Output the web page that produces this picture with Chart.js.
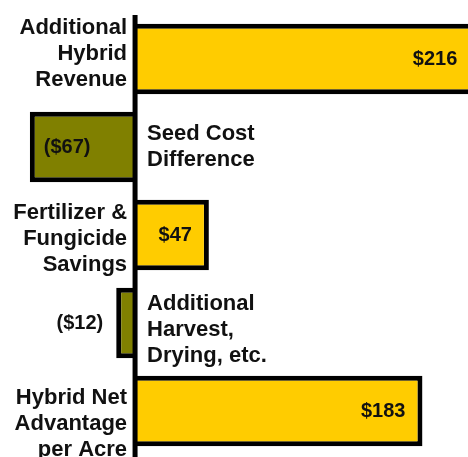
<!DOCTYPE html>
<html>
<head>
<meta charset="utf-8">
<script src="https://cdn.jsdelivr.net/npm/chart.js@4"></script>
<style>
  html, body { margin: 0; padding: 0; background: #fff; overflow: hidden; }
  #wrap { width: 468px; height: 457px; position: relative; }
</style>
</head>
<body>
<div id="wrap"><canvas id="chart"></canvas></div>
<script>
// DATA
const categories = [
  ["Additional", "Hybrid", "Revenue"],
  ["Seed Cost", "Difference"],
  ["Fertilizer &", "Fungicide", "Savings"],
  ["Additional", "Harvest,", "Drying, etc."],
  ["Hybrid Net", "Advantage", "per Acre"],
];
const values = [216, -67, 47, -12, 183];
const valueLabels = ["$216", "($67)", "$47", "($12)", "$183"];

const X_MIN = -86;
const X_MAX = 212; // first bar runs off the right edge

const POS_COLOR = "#FFCC00";
const NEG_COLOR = "#808000";
const FONT = "'Liberation Sans', Arial, sans-serif";
// small vertical nudges for the category text blocks (px)
const labelShift = [-5, 0, 4, 7, 13];

// draws the zero axis, category text and value text
const labelPlugin = {
  id: "barLabels",
  afterDatasetsDraw(chart) {
    const ctx = chart.ctx;
    const xs = chart.scales.x;
    const meta = chart.getDatasetMeta(0);
    const zero = xs.getPixelForValue(0);

    ctx.save();
    ctx.fillStyle = "#000";
    ctx.fillRect(zero - 2.5, chart.chartArea.top, 5, chart.height - chart.chartArea.top);

    ctx.fillStyle = "#111";
    ctx.textBaseline = "middle";

    meta.data.forEach((bar, i) => {
      const v = values[i];
      const lines = categories[i];
      const lh = 26;
      const cy = bar.y + labelShift[i];
      const y0 = cy - ((lines.length - 1) * lh) / 2;

      ctx.font = "bold 22px " + FONT;
      let tx;
      if (v >= 0) {
        ctx.textAlign = "right";
        tx = zero - 8;
      } else {
        ctx.textAlign = "left";
        tx = zero + 12;
      }
      lines.forEach((ln, j) => ctx.fillText(ln, tx, y0 + j * lh));

      // value label
      ctx.font = "bold 20px " + FONT;
      const w = ctx.measureText(valueLabels[i]).width;
      if (v >= 0) {
        ctx.textAlign = "right";
        ctx.fillText(valueLabels[i], bar.x - 17, bar.y);
      } else if (zero - bar.x > w + 30) {
        ctx.textAlign = "left";
        ctx.fillText(valueLabels[i], bar.x + 14, bar.y);
      } else {
        ctx.textAlign = "right";
        ctx.fillText(valueLabels[i], bar.x - 13, bar.y);
      }
    });
    ctx.restore();
  },
};

function loadChart() {
  const canvas = document.getElementById("chart");
  new Chart(canvas, {
    type: "bar",
    data: {
      labels: categories.map((c) => c.join(" ")),
      datasets: [
        {
          data: values,
          backgroundColor: values.map((v) => (v >= 0 ? POS_COLOR : NEG_COLOR)),
          borderColor: "#000",
          // no end border on a bar that runs past the axis max
          borderWidth: (c) =>
            values[c.dataIndex] > X_MAX ? { top: 5, bottom: 5, left: 0, right: 0 } : 5,
          borderSkipped: "start",
          categoryPercentage: 1,
          barPercentage: 0.8,
          clip: 0,
        },
      ],
    },
    options: {
      indexAxis: "y",
      responsive: true,
      maintainAspectRatio: false,
      animation: false,
      layout: { padding: { top: 15, bottom: 2, left: 0, right: 0 } },
      plugins: {
        legend: { display: false },
        tooltip: { enabled: false },
      },
      scales: {
        x: { min: X_MIN, max: X_MAX, display: false },
        y: { display: false },
      },
    },
    plugins: [labelPlugin],
  });
}

document.addEventListener("DOMContentLoaded", loadChart);
</script>
</body>
</html>
